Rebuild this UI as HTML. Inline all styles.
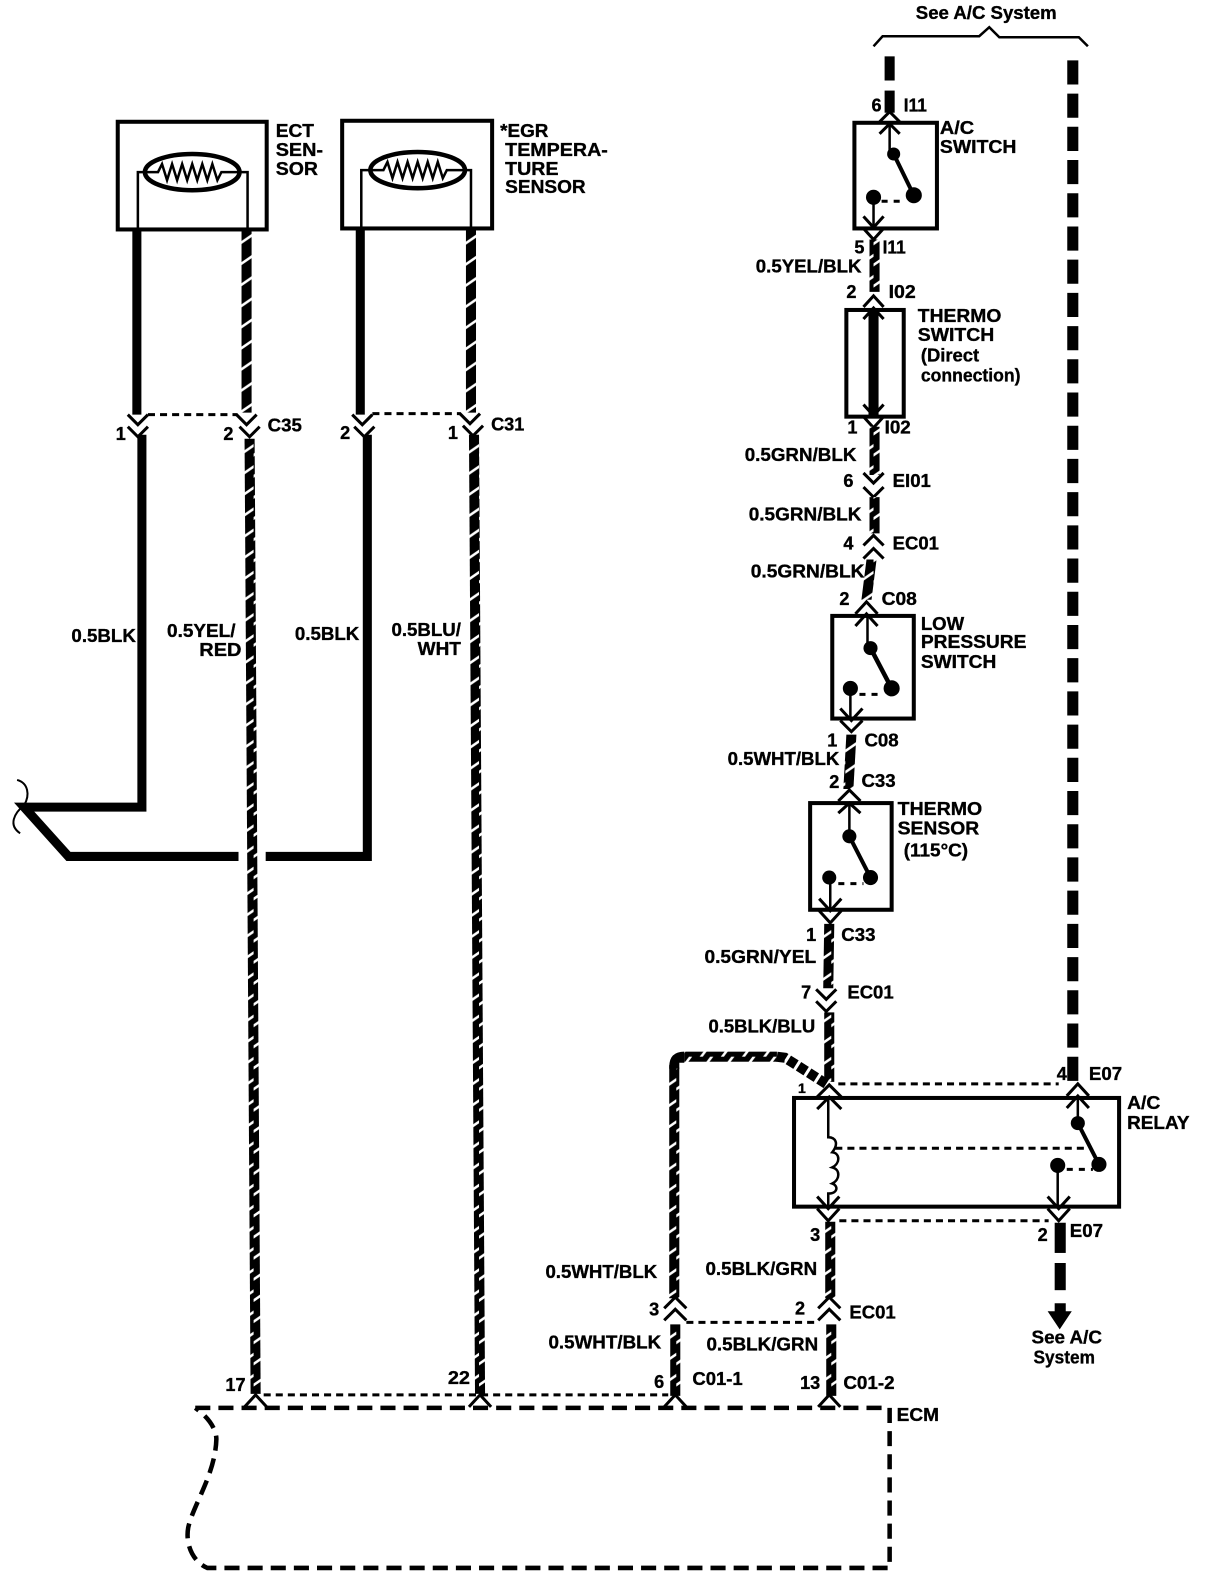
<!DOCTYPE html>
<html><head><meta charset="utf-8"><style>
html,body{margin:0;padding:0;background:#fff}
svg{display:block}
text{font-family:"Liberation Sans",sans-serif;font-weight:bold;font-size:18px;fill:#000;stroke:#000;stroke-width:.35}
.b{fill:none;stroke:#000;stroke-width:4}
.c{fill:none;stroke:#000;stroke-width:3}
.t{fill:none;stroke:#000;stroke-width:2.5}
.d{fill:none;stroke:#000;stroke-width:3;stroke-dasharray:7 5}
.w{fill:none;stroke:#000;stroke-width:9}
</style></head><body>
<svg width="1216" height="1578" viewBox="0 0 1208.3 1568" xmlns="http://www.w3.org/2000/svg">
<defs>
<pattern id="tw" patternUnits="userSpaceOnUse" width="14" height="21">
<rect width="14" height="21" fill="#000"/>
<path d="M-1 12 L15 1" stroke="#fff" stroke-width="2.5" fill="none"/>
</pattern>
<pattern id="tw2" patternUnits="userSpaceOnUse" width="21" height="14">
<rect width="21" height="14" fill="#000"/>
<path d="M3 15 L15 -1" stroke="#fff" stroke-width="2.5" fill="none"/>
</pattern>
</defs>
<rect x="0" y="0" width="1216" height="1578" fill="#fff"/>

<!-- top bracket -->
<path d="M868 46 L877 36 H973 L983 27 L993 37 H1072 L1081 46" fill="none" stroke="#000" stroke-width="2.5"/>
<text x="910" y="19" textLength="140" lengthAdjust="spacingAndGlyphs">See A/C System</text>

<!-- left sensors -->
<rect class="b" x="117" y="121" width="148" height="107"/>
<rect class="b" x="340" y="120" width="149" height="107"/>
<ellipse cx="191" cy="171" rx="47" ry="18" fill="none" stroke="#000" stroke-width="4.5"/>
<ellipse cx="415" cy="169" rx="47" ry="18" fill="none" stroke="#000" stroke-width="4.5"/>
<path class="t" d="M137 228V171H151L157 171L161 163L166 179L171 163L176 179L181 163L186 179L191 163L196 179L201 163L206 179L211 163L216 179L220 171H246V228"/>
<path class="t" d="M359 226V169H375L381 169L385 161L390 177L395 161L400 177L405 161L410 177L415 161L420 177L425 161L430 177L435 161L440 177L444 169H468V226"/>

<!-- black wires -->
<path class="w" d="M136 228V412"/>
<path class="w" d="M358 228V412"/>
<path class="w" stroke-linejoin="miter" d="M141 432V802H24L68 851H237"/>
<path class="w" d="M264 851H365V432"/>
<path d="M17 775C28 778 30 790 24 800C14 808 8 820 20 828" fill="none" stroke="#000" stroke-width="2"/>

<!-- twisted long wires -->
<polygon fill="url(#tw)" points="240,228 250,228 250,410 240,410"/>
<polygon fill="url(#tw)" points="463,228 473,228 473,410 463,410"/>
<polygon fill="url(#tw)" points="243,436 253,436 259,1385 249,1385"/>
<polygon fill="url(#tw)" points="466,432 476,432 482,1385 472,1385"/>

<!-- C35/C31 connectors -->
<path class="c" d="M127 412L137 422L147 412M127 424L137 434L147 424M235 412L245 422L255 412M238 424L248 434L258 424"/>
<path class="c" d="M350 412L360 422L370 412M352 424L362 434L372 424M457 411L467 421L477 411M460 423L470 433L480 423"/>
<path class="d" d="M147 412H236"/>
<path class="d" d="M370 411H458"/>

<!-- A/C wire top -->
<rect x="879" y="56" width="10" height="24" fill="#000"/>
<rect x="879" y="90" width="10" height="22" fill="#000"/>
<rect class="b" x="849" y="122" width="82" height="105"/>
<path class="c" d="M874 121L884 111L894 121M874 133L884 123L894 133"/>
<path class="t" d="M884 122V152"/>
<circle cx="888" cy="153" r="6.5"/>
<circle cx="908" cy="194" r="8"/>
<circle cx="868" cy="196" r="7.5"/>
<path stroke="#000" stroke-width="4" d="M888 153L908 194"/>
<path fill="none" stroke="#000" stroke-width="3" stroke-dasharray="6 6" d="M876 200H900"/>
<path class="t" d="M868 196V226"/>
<path class="c" d="M858 215L868 226L878 215M858 227L868 238L878 227"/>
<polygon fill="url(#tw)" points="864,238 874,238 874,290 864,290"/>

<!-- thermo switch -->
<path class="c" d="M858 305L868 294L878 305M858 317L868 306L878 317"/>
<rect class="b" x="841" y="308" width="57" height="106"/>
<rect x="863" y="308" width="10" height="105" fill="#000"/>
<path class="c" d="M858 402L868 413L878 402M858 414L868 425L878 414"/>
<polygon fill="url(#tw)" points="864,424 874,424 874,472 864,472"/>
<path class="c" d="M858 470L868 480L878 470M858 484L868 494L878 484"/>
<polygon fill="url(#tw)" points="864,494 874,494 874,530 864,530"/>
<path class="c" d="M858 542L868 532L878 542M858 555L868 545L878 555"/>
<polygon fill="url(#tw)" points="861,556 871,556 866,596 856,596"/>

<!-- low pressure switch -->
<path class="c" d="M850 610L861 598L872 610M850 622L861 610L872 622"/>
<rect class="b" x="827" y="612" width="81" height="102"/>
<path class="t" d="M862 612V645"/>
<circle cx="865" cy="644" r="7"/>
<circle cx="886" cy="684" r="8"/>
<circle cx="845" cy="684" r="7.5"/>
<path stroke="#000" stroke-width="4.5" d="M865 644L886 684"/>
<path fill="none" stroke="#000" stroke-width="3" stroke-dasharray="6 6" d="M854 690H878"/>
<path class="t" d="M845 686V714"/>
<path class="c" d="M835 704L846 716L857 704M835 716L846 727L857 716"/>
<polygon fill="url(#tw)" points="841,730 851,730 848,784 838,784"/>

<!-- thermo sensor -->
<path class="c" d="M833 796L844 785L855 796M833 808L844 798L855 808"/>
<rect class="b" x="805" y="798" width="81" height="106"/>
<path class="t" d="M844 798V830"/>
<circle cx="844" cy="831" r="7"/>
<circle cx="865" cy="872" r="7.5"/>
<circle cx="824" cy="872" r="7"/>
<path stroke="#000" stroke-width="4" d="M844 831L865 872"/>
<path fill="none" stroke="#000" stroke-width="3" stroke-dasharray="6 6" d="M833 878H858"/>
<path class="t" d="M825 874V904"/>
<path class="c" d="M814 893L825 905L836 893M814 905L825 917L836 905"/>
<polygon fill="url(#tw)" points="819,918 829,918 828,982 818,982"/>
<path class="c" d="M811 983L821 993L831 983M811 995L821 1005L831 995"/>
<polygon fill="url(#tw)" points="819,1006 829,1006 829,1075 819,1075"/>

<!-- branch -->
<polygon fill="url(#tw)" points="665,1058 675,1058 675,1290 665,1290"/>
<path fill="#000" d="M665 1060Q665 1045 680 1045V1056H675V1062H665Z"/>
<rect x="680" y="1045" width="92" height="10" fill="url(#tw2)"/>
<path d="M772 1050L780 1051L821 1077" fill="none" stroke="#000" stroke-width="10" stroke-dasharray="9 3"/>
<path class="d" d="M833 1077H1052"/>

<!-- A/C relay -->
<path class="c" d="M812 1090L824 1078L836 1090M812 1102L824 1090L836 1102"/>
<path class="c" d="M1060 1089L1071 1077L1082 1089M1060 1101L1071 1089L1082 1101"/>
<rect class="b" x="789" y="1091" width="323" height="108"/>
<path class="t" d="M823 1092V1130C830 1130 834 1136 827 1145C835 1146 835 1156 827 1160C835 1162 835 1172 827 1176C833 1178 833 1186 823 1186V1200"/>
<path class="d" d="M830 1141H1078"/>
<path class="t" d="M1071 1090V1116"/>
<circle cx="1071" cy="1116" r="7"/>
<circle cx="1092" cy="1157" r="7.5"/>
<circle cx="1051" cy="1158" r="7.5"/>
<path stroke="#000" stroke-width="4" d="M1071 1116L1092 1157"/>
<path fill="none" stroke="#000" stroke-width="3" stroke-dasharray="6 6" d="M1060 1162H1086"/>
<path class="t" d="M1051 1160V1200"/>
<path class="c" d="M1041 1189L1052 1201L1063 1189M1041 1201L1052 1213L1063 1201"/>
<path class="c" d="M812 1189L823 1201L834 1189M812 1201L823 1213L834 1201"/>
<path class="d" d="M834 1213H1042"/>

<!-- bottom wires -->
<polygon fill="url(#tw)" points="820,1214 830,1214 830,1290 820,1290"/>
<path class="c" d="M813 1300L824 1289L835 1300M813 1312L824 1301L835 1312"/>
<path class="c" d="M660 1300L671 1289L682 1300M660 1312L671 1301L682 1312"/>
<path class="d" d="M682 1314H812"/>
<polygon fill="url(#tw)" points="666,1316 676,1316 676,1387 666,1387"/>
<polygon fill="url(#tw)" points="821,1316 831,1316 831,1387 821,1387"/>

<!-- right dashed -->
<path stroke="#000" stroke-width="11" stroke-dasharray="24 9" fill="none" d="M1066 60V1076"/>
<rect x="1048" y="1215" width="11" height="30" fill="#000"/>
<rect x="1048" y="1255" width="11" height="27" fill="#000"/>
<rect x="1048" y="1295" width="11" height="16" fill="#000"/>
<polygon points="1041,1303 1065,1303 1053,1321"/>

<!-- ECM -->
<path d="M194 1399H884V1558H206C192 1552 184 1535 187 1518C192 1495 214 1465 215 1430C215 1420 207 1408 194 1399" fill="none" stroke="#000" stroke-width="4.5" stroke-dasharray="15 8"/>
<path class="d" d="M262 1386H664"/>
<path class="c" d="M243 1398L254 1386L265 1398"/>
<path class="c" d="M466 1398L477 1386L488 1398"/>
<path class="c" d="M660 1398L671 1386L682 1398"/>
<path class="c" d="M813 1398L824 1386L835 1398"/>

<!-- labels -->
<text x="274" y="136" textLength="38" lengthAdjust="spacingAndGlyphs">ECT</text>
<text x="274" y="155" textLength="47" lengthAdjust="spacingAndGlyphs">SEN-</text>
<text x="274" y="174" textLength="42" lengthAdjust="spacingAndGlyphs">SOR</text>
<text x="497" y="136" textLength="48" lengthAdjust="spacingAndGlyphs">*EGR</text>
<text x="502" y="155" textLength="102" lengthAdjust="spacingAndGlyphs">TEMPERA-</text>
<text x="502" y="174" textLength="53" lengthAdjust="spacingAndGlyphs">TURE</text>
<text x="502" y="192" textLength="80" lengthAdjust="spacingAndGlyphs">SENSOR</text>
<text x="115" y="437">1</text>
<text x="222" y="437">2</text>
<text x="266" y="429" textLength="34" lengthAdjust="spacingAndGlyphs">C35</text>
<text x="338" y="436">2</text>
<text x="445" y="436">1</text>
<text x="488" y="428" textLength="33" lengthAdjust="spacingAndGlyphs">C31</text>
<text x="71" y="638" textLength="64" lengthAdjust="spacingAndGlyphs">0.5BLK</text>
<text x="166" y="633" textLength="68" lengthAdjust="spacingAndGlyphs">0.5YEL/</text>
<text x="198" y="652" textLength="42" lengthAdjust="spacingAndGlyphs">RED</text>
<text x="293" y="636" textLength="64" lengthAdjust="spacingAndGlyphs">0.5BLK</text>
<text x="389" y="632" textLength="69" lengthAdjust="spacingAndGlyphs">0.5BLU/</text>
<text x="415" y="651" textLength="43" lengthAdjust="spacingAndGlyphs">WHT</text>

<text x="866" y="111">6</text>
<text x="898" y="111" textLength="23" lengthAdjust="spacingAndGlyphs">I11</text>
<text x="934" y="133" textLength="34" lengthAdjust="spacingAndGlyphs">A/C</text>
<text x="934" y="152" textLength="76" lengthAdjust="spacingAndGlyphs">SWITCH</text>
<text x="849" y="252">5</text>
<text x="877" y="252" textLength="23" lengthAdjust="spacingAndGlyphs">I11</text>
<text x="751" y="271" textLength="105" lengthAdjust="spacingAndGlyphs">0.5YEL/BLK</text>
<text x="841" y="296">2</text>
<text x="883" y="296" textLength="27" lengthAdjust="spacingAndGlyphs">I02</text>
<text x="912" y="320" textLength="83" lengthAdjust="spacingAndGlyphs">THERMO</text>
<text x="912" y="339" textLength="76" lengthAdjust="spacingAndGlyphs">SWITCH</text>
<text x="915" y="359" textLength="58" lengthAdjust="spacingAndGlyphs">(Direct</text>
<text x="915" y="379" textLength="99" lengthAdjust="spacingAndGlyphs">connection)</text>
<text x="842" y="431">1</text>
<text x="879" y="431" textLength="26" lengthAdjust="spacingAndGlyphs">I02</text>
<text x="740" y="458" textLength="111" lengthAdjust="spacingAndGlyphs">0.5GRN/BLK</text>
<text x="838" y="484">6</text>
<text x="887" y="484" textLength="38" lengthAdjust="spacingAndGlyphs">EI01</text>
<text x="744" y="517" textLength="112" lengthAdjust="spacingAndGlyphs">0.5GRN/BLK</text>
<text x="838" y="546">4</text>
<text x="887" y="546" textLength="46" lengthAdjust="spacingAndGlyphs">EC01</text>
<text x="746" y="574" textLength="113" lengthAdjust="spacingAndGlyphs">0.5GRN/BLK</text>
<text x="834" y="601">2</text>
<text x="876" y="601" textLength="35" lengthAdjust="spacingAndGlyphs">C08</text>
<text x="915" y="626" textLength="43" lengthAdjust="spacingAndGlyphs">LOW</text>
<text x="915" y="644" textLength="105" lengthAdjust="spacingAndGlyphs">PRESSURE</text>
<text x="915" y="664" textLength="75" lengthAdjust="spacingAndGlyphs">SWITCH</text>
<text x="822" y="742">1</text>
<text x="859" y="742" textLength="34" lengthAdjust="spacingAndGlyphs">C08</text>
<text x="723" y="760" textLength="111" lengthAdjust="spacingAndGlyphs">0.5WHT/BLK</text>
<text x="824" y="783">2</text>
<text x="856" y="782" textLength="34" lengthAdjust="spacingAndGlyphs">C33</text>
<text x="892" y="810" textLength="84" lengthAdjust="spacingAndGlyphs">THERMO</text>
<text x="892" y="829" textLength="81" lengthAdjust="spacingAndGlyphs">SENSOR</text>
<text x="898" y="851" textLength="64" lengthAdjust="spacingAndGlyphs">(115°C)</text>
<text x="801" y="935">1</text>
<text x="836" y="935" textLength="34" lengthAdjust="spacingAndGlyphs">C33</text>
<text x="700" y="957" textLength="111" lengthAdjust="spacingAndGlyphs">0.5GRN/YEL</text>
<text x="796" y="992">7</text>
<text x="842" y="992" textLength="46" lengthAdjust="spacingAndGlyphs">EC01</text>
<text x="704" y="1026" textLength="106" lengthAdjust="spacingAndGlyphs">0.5BLK/BLU</text>
<text x="793" y="1086" style="font-size:14px">1</text>
<text x="1050" y="1073">4</text>
<text x="1082" y="1073" textLength="33" lengthAdjust="spacingAndGlyphs">E07</text>
<text x="1120" y="1102" textLength="33" lengthAdjust="spacingAndGlyphs">A/C</text>
<text x="1120" y="1122" textLength="62" lengthAdjust="spacingAndGlyphs">RELAY</text>
<text x="805" y="1233">3</text>
<text x="1031" y="1233">2</text>
<text x="1063" y="1229" textLength="33" lengthAdjust="spacingAndGlyphs">E07</text>
<text x="542" y="1270" textLength="111" lengthAdjust="spacingAndGlyphs">0.5WHT/BLK</text>
<text x="701" y="1267" textLength="111" lengthAdjust="spacingAndGlyphs">0.5BLK/GRN</text>
<text x="645" y="1307">3</text>
<text x="790" y="1306">2</text>
<text x="844" y="1310" textLength="46" lengthAdjust="spacingAndGlyphs">EC01</text>
<text x="545" y="1340" textLength="112" lengthAdjust="spacingAndGlyphs">0.5WHT/BLK</text>
<text x="702" y="1342" textLength="111" lengthAdjust="spacingAndGlyphs">0.5BLK/GRN</text>
<text x="650" y="1379">6</text>
<text x="688" y="1376" textLength="50" lengthAdjust="spacingAndGlyphs">C01-1</text>
<text x="795" y="1380" textLength="20" lengthAdjust="spacingAndGlyphs">13</text>
<text x="838" y="1380" textLength="51" lengthAdjust="spacingAndGlyphs">C01-2</text>
<text x="224" y="1382" textLength="20" lengthAdjust="spacingAndGlyphs">17</text>
<text x="445" y="1375" textLength="22" lengthAdjust="spacingAndGlyphs">22</text>
<text x="891" y="1412" textLength="42" lengthAdjust="spacingAndGlyphs">ECM</text>
<text x="1025" y="1335" textLength="70" lengthAdjust="spacingAndGlyphs">See A/C</text>
<text x="1027" y="1355" textLength="61" lengthAdjust="spacingAndGlyphs">System</text>
</svg>
</body></html>
